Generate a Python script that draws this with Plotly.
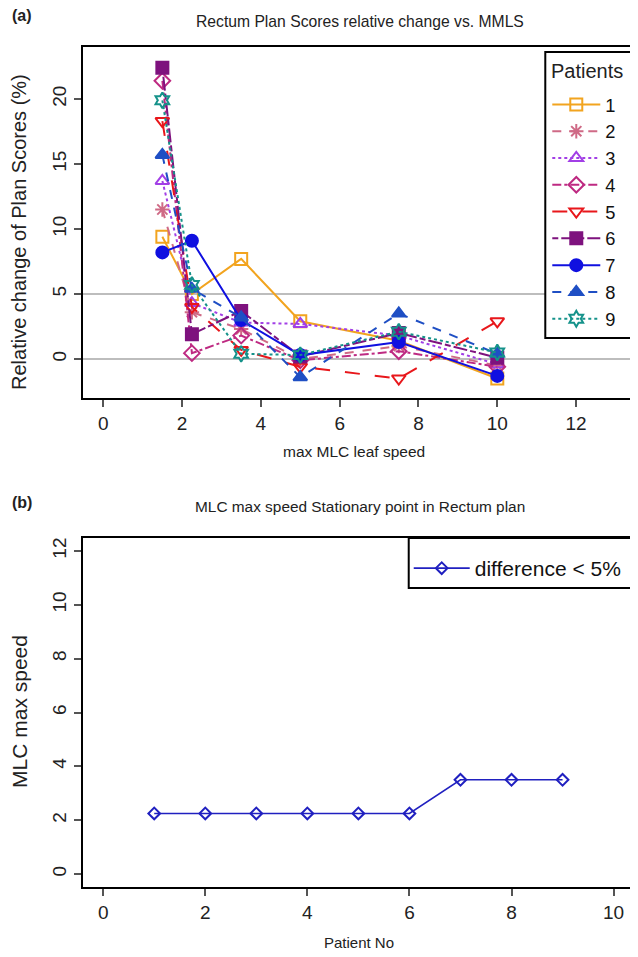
import plotly.graph_objects as go

# ---------------- data ----------------
max_speed = [1.5, 2.25, 3.5, 5, 7.5, 10]
patients = ["1", "2", "3", "4", "5", "6", "7", "8", "9"]
p1 = [9.4, 5.0, 7.7, 2.9, 1.4, -1.5]
p2 = [11.5, 3.6, 2.3, 0.0, 1.0, -0.5]
p3 = [13.7, 4.3, 2.8, 2.7, 1.8, -0.4]
p4 = [21.4, 0.45, 1.8, -0.1, 0.6, -0.6]
p5 = [18.3, 4.0, 0.7, -0.6, -1.5, 2.9]
p6 = [22.4, 1.9, 3.7, 0.2, 2.0, 0.1]
p7 = [8.2, 9.1, 3.0, 0.3, 1.3, -1.3]
p8 = [15.7, 5.4, 3.2, -1.4, 3.5, 0.4]
p9 = [19.9, 5.7, 0.4, 0.3, 2.1, 0.5]
series = [p1, p2, p3, p4, p5, p6, p7, p8, p9]
ref_lines = [0, 5]

patient_no = [1, 2, 3, 4, 5, 6, 7, 8, 9]
stationary_speed = [2.25, 2.25, 2.25, 2.25, 2.25, 2.25, 3.5, 3.5, 3.5]

# ---------------- styles ----------------
colors = ["#F2A41F", "#CF6A86", "#A23FE6", "#BE2A82", "#E8171B",
          "#7E127E", "#1010E0", "#1F4FC4", "#15928A"]
symbols = ["square-open", "asterisk-open", "triangle-up-open", "diamond-open",
           "triangle-down-open", "square", "circle", "triangle-up", "hexagram-open"]
dashes = ["solid", "dash", "dot", "dashdot", "longdash",
          "6px,3px,14px,3px", "solid", "dash", "dot"]

FONT = "Liberation Sans, Arial, sans-serif"
OFF = 8                      # browser body margin
W, H = 638 - OFF, 957 - OFF  # figure size

fig = go.Figure()

for name, ys, c, s, d in zip(patients, series, colors, symbols, dashes):
    fig.add_trace(go.Scatter(
        x=max_speed, y=ys, name=name, mode="lines+markers",
        line=dict(color=c, width=2, dash=d),
        marker=dict(symbol=s, size=12, color=c, line=dict(color=c, width=2)),
        xaxis="x", yaxis="y", legend="legend",
    ))

fig.add_trace(go.Scatter(
    x=patient_no, y=stationary_speed, name="difference < 5%", mode="lines+markers",
    line=dict(color="#2020C0", width=1.6),
    marker=dict(symbol="diamond-open", size=9, color="#2020C0",
                line=dict(color="#2020C0", width=2)),
    xaxis="x2", yaxis="y2", legend="legend2",
))

for v in ref_lines:
    fig.add_shape(type="line", xref="x domain", yref="y", x0=0, x1=1, y0=v, y1=v,
                  line=dict(color="#BDBDBD", width=2), layer="below")


def px(x):
    return (x - OFF) / W


def py(y):
    return 1 - (y - OFF) / H


# legend frames
for x0, y0, x1, y1 in [(547, 52, 637, 338), (410, 538, 636, 588)]:
    fig.add_shape(type="rect", xref="paper", yref="paper",
                  x0=px(x0), x1=px(x1), y0=py(y1), y1=py(y0),
                  line=dict(color="black", width=2), fillcolor="white", layer="above")

axis_common = dict(showgrid=False, zeroline=False, showline=True, mirror=True,
                   linecolor="black", linewidth=2, ticks="outside", ticklen=7,
                   tickwidth=1.5, tickcolor="#555555",
                   tickfont=dict(family=FONT, size=19, color="#222222"))

fig.update_layout(
    width=W, height=H,
    margin=dict(l=0, r=0, t=0, b=0),
    paper_bgcolor="white", plot_bgcolor="white",
    font=dict(family=FONT, color="#222222"),
    xaxis=dict(domain=[px(83), px(638)], range=[-0.52, 13.52],
               tickvals=[0, 2, 4, 6, 8, 10, 12], anchor="y", **axis_common),
    yaxis=dict(domain=[py(398), py(47)], range=[-3, 24],
               tickvals=[0, 5, 10, 15, 20], tickangle=-90, anchor="x", **axis_common),
    xaxis2=dict(domain=[px(83), px(636)], range=[-0.4, 10.4],
                tickvals=[0, 2, 4, 6, 8, 10], anchor="y2", **axis_common),
    yaxis2=dict(domain=[py(887), py(538)], range=[-0.48, 12.48],
                tickvals=[0, 2, 4, 6, 8, 10, 12], tickangle=-90, anchor="x2", **axis_common),
    legend=dict(x=px(549), y=py(86), xanchor="left", yanchor="top",
                borderwidth=0, bgcolor="rgba(0,0,0,0)",
                font=dict(family=FONT, size=18.3, color="#111111"),
                itemwidth=48, tracegroupgap=0),
    legend2=dict(x=px(410), y=py(548), xanchor="left", yanchor="top",
                 borderwidth=0, bgcolor="rgba(0,0,0,0)",
                 font=dict(family=FONT, size=21, color="#111111"),
                 itemwidth=56),
)

annos = [
    dict(text="<b>(a)</b>", x=px(10), y=py(15), xanchor="left", size=16),
    dict(text="Rectum Plan Scores relative change vs. MMLS", x=px(361), y=py(21), xanchor="center", size=15.7),
    dict(text="max MLC leaf speed", x=px(355), y=py(451), xanchor="center", size=15.5),
    dict(text="<b>(b)</b>", x=px(10), y=py(502), xanchor="left", size=16),
    dict(text="MLC max speed Stationary point in Rectum plan", x=px(361), y=py(506), xanchor="center", size=15.4),
    dict(text="Patient No", x=px(360), y=py(942), xanchor="center", size=15),
    dict(text="Patients", x=px(551), y=py(71), xanchor="left", size=20),
]
for a in annos:
    fig.add_annotation(text=a["text"], x=a["x"], y=a["y"], xref="paper", yref="paper",
                       xanchor=a["xanchor"], yanchor="middle", showarrow=False,
                       font=dict(family=FONT, size=a["size"], color="#222222"))

for text, yc, fs in [("Relative change of Plan Scores (%)", 232, 20), ("MLC max speed", 711, 21)]:
    fig.add_annotation(text=text, x=px(19), y=py(yc), xref="paper", yref="paper",
                       xanchor="center", yanchor="middle", textangle=-90, showarrow=False,
                       font=dict(family=FONT, size=fs, color="#222222"))

fig.write_html("out.html")
